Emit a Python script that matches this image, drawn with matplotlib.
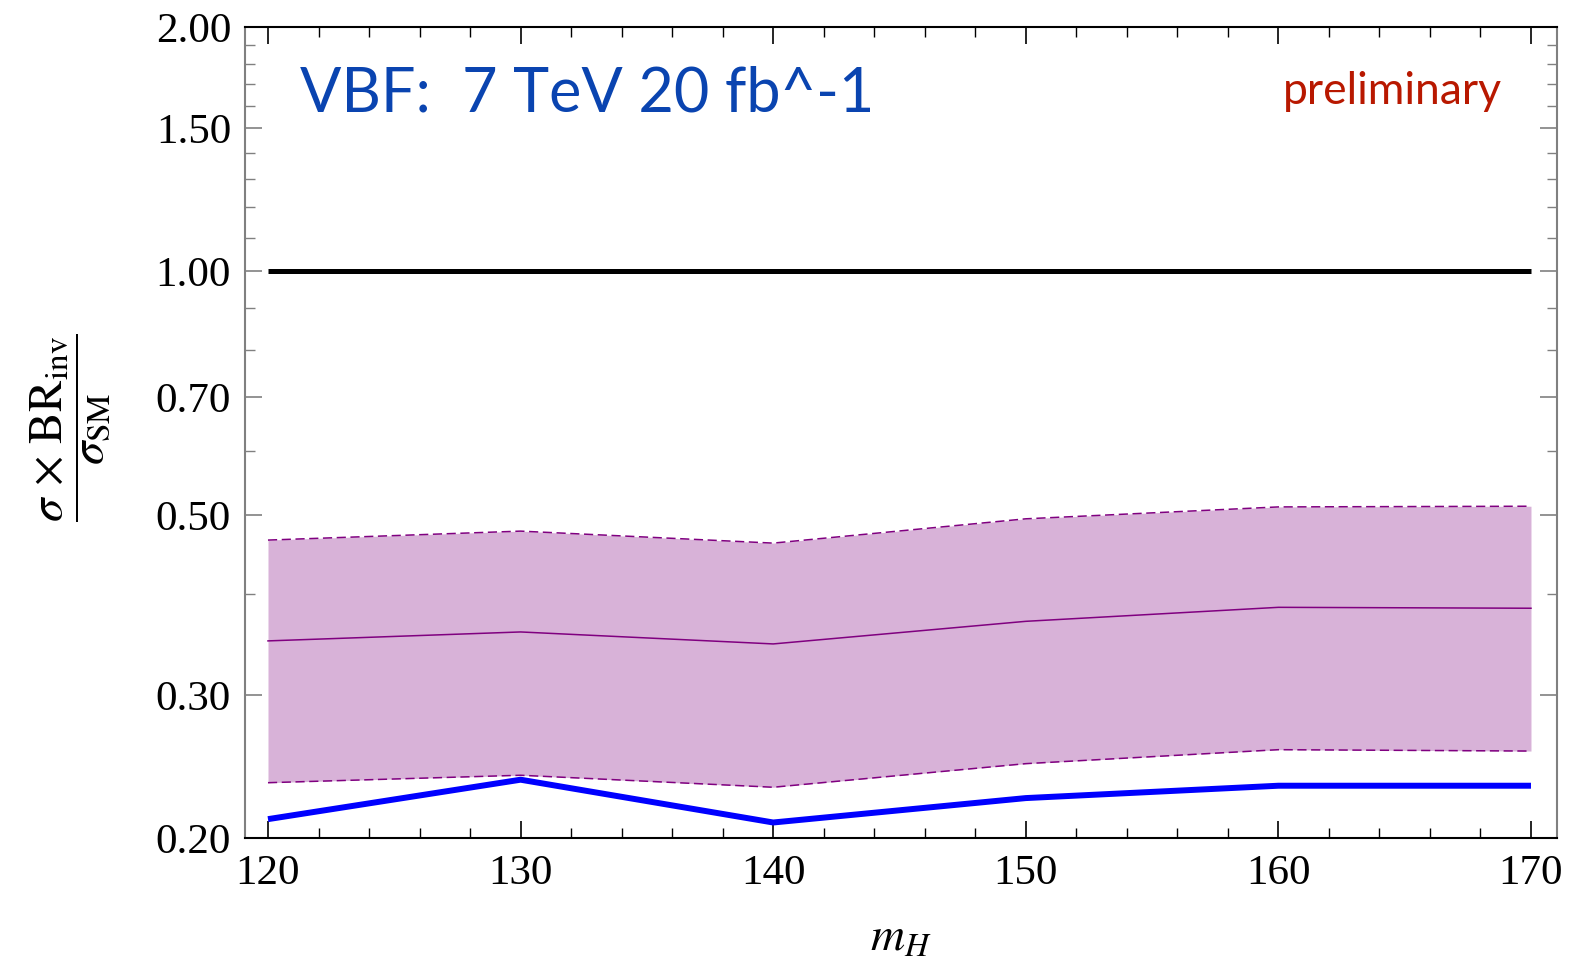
import numpy as np
import matplotlib
matplotlib.use("Agg")
import matplotlib.pyplot as plt
from matplotlib.ticker import FixedLocator, NullFormatter

plt.rcParams['mathtext.fontset'] = 'stix'
plt.rcParams['font.family'] = ['Liberation Serif', 'DejaVu Serif']

# data
mh = [120, 130, 140, 150, 160, 170]
band_hi = [0.466, 0.478, 0.462, 0.495, 0.512, 0.513]
median = [0.350, 0.359, 0.347, 0.370, 0.385, 0.384]
band_lo = [0.234, 0.239, 0.231, 0.247, 0.257, 0.256]
observed = [0.211, 0.236, 0.209, 0.224, 0.232, 0.232]
sm_line = [1.0, 1.0]
sm_x = [120, 170]

y_major = [0.20, 0.30, 0.50, 0.70, 1.00, 1.50, 2.00]
y_minor = [0.4, 0.6, 0.8, 0.9, 1.1, 1.2, 1.3, 1.4, 1.6, 1.7, 1.8, 1.9]
x_major = [120, 130, 140, 150, 160, 170]

fig = plt.figure(figsize=(15.72, 9.66), dpi=100)
ax = fig.add_axes([245/1572, 1 - 838/966, (1557-245)/1572, (838-27)/966])

ax.fill_between(mh, band_lo, band_hi, color='#d8b2d8', lw=0)
ax.plot(mh, band_hi, color='#800080', lw=1.1, ls=(0, (6, 3)))
ax.plot(mh, band_lo, color='#800080', lw=1.1, ls=(0, (6, 3)))
ax.plot(mh, median, color='#800080', lw=1.1)
ax.plot(mh, observed, color='#0000ff', lw=4.3, solid_capstyle='butt')
ax.plot(sm_x, sm_line, color='black', lw=3.6, solid_capstyle='butt')

ax.set_yscale('log')
ax.set_ylim(0.2, 2.0)
ax.set_xlim(119.09, 171.03)
ax.yaxis.set_major_locator(FixedLocator(y_major))
ax.yaxis.set_minor_locator(FixedLocator(y_minor))
ax.yaxis.set_minor_formatter(NullFormatter())
ax.set_yticklabels(['%.2f' % v for v in y_major])
ax.set_xticks(x_major)
ax.set_xticks(np.arange(120, 171, 2), minor=True)
ax.set_xticklabels([str(v) for v in x_major])

ax.tick_params(axis='both', which='both', direction='in', top=True, right=True)
ax.tick_params(axis='both', which='major', length=12, width=1.2, labelsize=31)
ax.tick_params(axis='both', which='minor', length=7, width=1.0)
ax.tick_params(axis='y', which='both', color='#808080', pad=10)
ax.tick_params(axis='x', which='both', color='black', pad=12)
ax.spines['left'].set_color('#808080')
ax.spines['right'].set_color('#808080')
for s in ax.spines.values():
    s.set_linewidth(1.5)

ax.set_xlabel(r'$m_H$', fontsize=34, labelpad=18)
fig.text(0.045, 0.557,
         r'$\dfrac{\sigma\,\times\,\mathrm{BR}_{\mathrm{inv}}}{\sigma_{\mathrm{SM}}}$',
         rotation=90, fontsize=34, ha='center', va='center')

ax.text(300, 112, 'VBF:  7 TeV 20 fb^-1', transform=None, fontsize=44,
        color='#0a44b0', family='Lato', va='baseline')
ax.text(1502, 104, 'preliminary', transform=None, fontsize=32,
        color='#b81800', family='Lato', va='baseline', ha='right')

# transform=None uses pixel coords from bottom; convert from top-based positions
for t in ax.texts:
    x, y = t.get_position()
    t.set_position((x, 966 - y))

fig.savefig('out.png', dpi=100)
